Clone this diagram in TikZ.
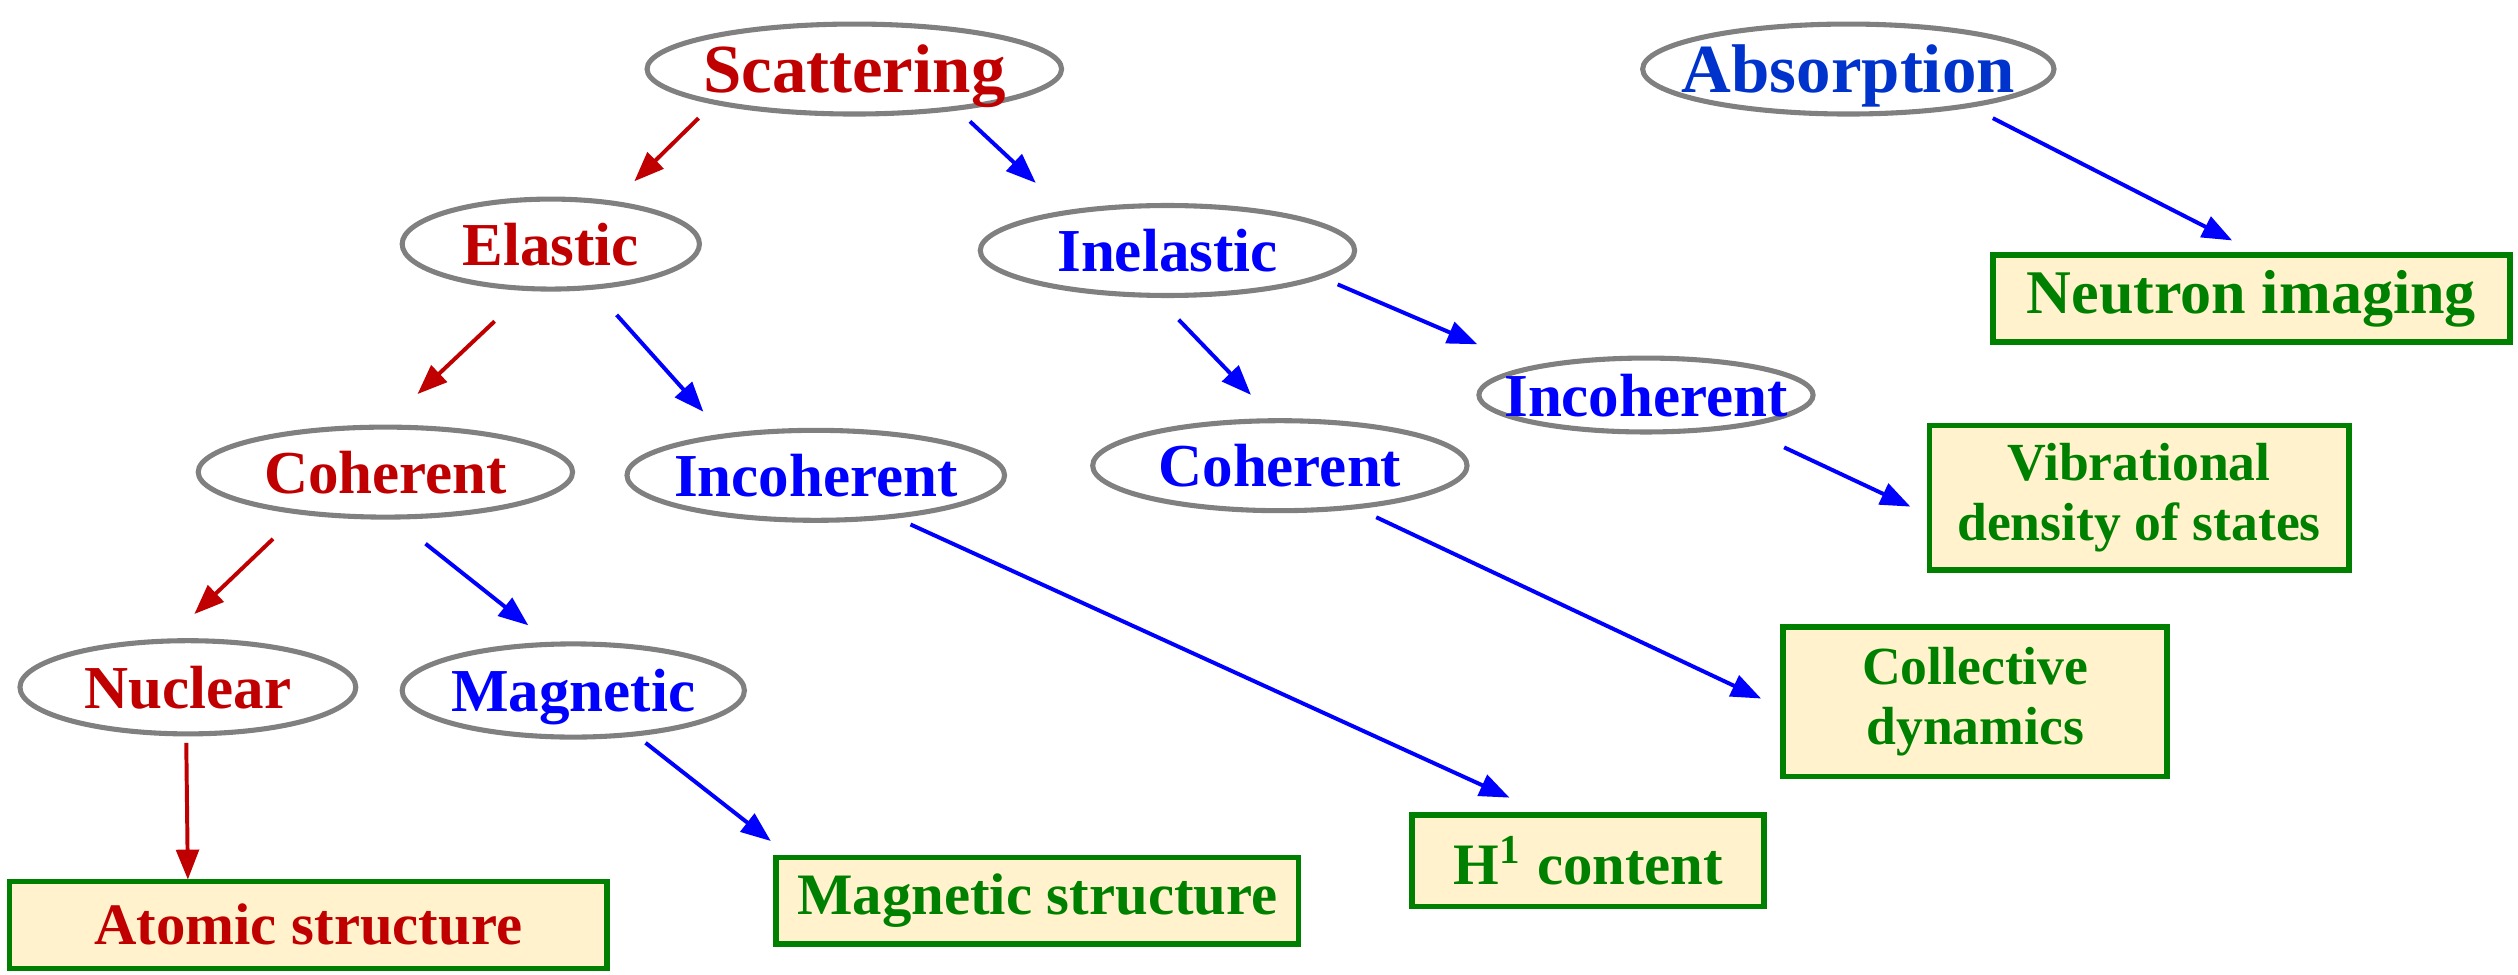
\documentclass[tikz,border=0pt]{standalone}
\usepackage{fontspec}
\setmainfont{Liberation Serif}
\usetikzlibrary{shapes.geometric,arrows.meta,calc}

\definecolor{scred}{HTML}{C00000}
\definecolor{scblue}{HTML}{0000FF}
\definecolor{absblue}{HTML}{0033CC}
\definecolor{boxgreen}{HTML}{008000}
\definecolor{boxfill}{HTML}{FFF2CC}
\definecolor{rimgray}{HTML}{808080}

\begin{document}
\begin{tikzpicture}[
  x=0.01cm, y=-0.01cm,
  every node/.style={inner sep=0pt},
  oval/.style={ellipse, draw=rimgray, line width=0.9pt, minimum height=0.56cm,
    text depth=0pt, font=\fontsize{10.8}{12}\selectfont\bfseries},
  big/.style={font=\fontsize{12.2}{14}\selectfont\bfseries},
  result/.style={rectangle, draw=boxgreen, fill=boxfill, line width=1pt, text=boxgreen,
    align=center, minimum height=0.54cm, font=\fontsize{10.4}{12}\selectfont\bfseries},
  tworow/.style={font=\fontsize{9.5}{10.6}\selectfont\bfseries},
  redarrow/.style={draw=scred, line width=0.7pt, -{Triangle[length=5.3pt,width=4pt]}},
  bluearrow/.style={draw=scblue, line width=0.7pt, -{Triangle[length=5.3pt,width=4pt]}}]

  \useasboundingbox (0,0) rectangle (1568,607);

  % processes
  \node[oval, big, minimum width=2.58cm, text=scred]   (sca)  at (532,43)  {\makebox[0pt]{Scattering}};
  \node[oval, big, minimum width=2.56cm, text=absblue] (abs)  at (1151,43) {\makebox[0pt]{Absorption}};
  \node[oval, minimum width=1.85cm, text=scred]        (ela)  at (343,152) {\makebox[0pt]{Elastic}};
  \node[oval, minimum width=2.33cm, text=scblue]       (inel) at (727,156) {\makebox[0pt]{Inelastic}};
  \node[oval, minimum width=2.33cm, text=scred]        (cohL) at (240,294) {\makebox[0pt]{Coherent}};
  \node[oval, minimum width=2.35cm, text=scblue]       (incL) at (508,296) {\makebox[0pt]{Incoherent}};
  \node[oval, minimum width=2.08cm, minimum height=0.46cm, text=scblue] (incR) at (1025,246) {\makebox[0pt]{Incoherent}};
  \node[oval, minimum width=2.33cm, text=scblue]       (cohR) at (797,290) {\makebox[0pt]{Coherent}};
  \node[oval, minimum width=2.09cm, minimum height=0.58cm, text=scred]  (nuc) at (117,428) {\makebox[0pt]{Nuclear}};
  \node[oval, minimum width=2.13cm, minimum height=0.58cm, text=scblue] (mag) at (357,430) {\makebox[0pt]{Magnetic}};

  % what each one measures
  \node[result, minimum width=3.22cm, font=\fontsize{11}{12}\selectfont\bfseries] (img) at (1402,186) {Neutron imaging};
  \node[result, tworow, minimum width=2.61cm, minimum height=0.90cm] (vib)  at (1332,310) {Vibrational\\density of states};
  \node[result, tworow, minimum width=2.39cm, minimum height=0.93cm] (coll) at (1230,437) {Collective\\dynamics};
  \node[result, minimum width=2.19cm, minimum height=0.57cm] (h1)   at (989,536) {H\textsuperscript{1} content};
  \node[result, minimum width=3.25cm] (mstr) at (646,561) {Magnetic structure};
  \node[result, minimum width=3.72cm, text=scred] (atom) at (192,576) {Atomic structure};

  \draw[redarrow]  ($(sca.south)+(-97,1)$)   -- ($(ela.north)+(52,-9.5)$);
  \draw[bluearrow] ($(sca.south)+(72,3)$)    -- ($(inel.north)+(-82,-12.5)$);
  \draw[redarrow]  ($(ela.south)+(-35,18.5)$) -- ($(cohL.north)+(20,-19)$);
  \draw[bluearrow] ($(ela.south)+(41,14.5)$) -- ($(incL.north)+(-70,-10)$);
  \draw[bluearrow] ($(inel.south)+(7,13.5)$) -- ($(cohR.north)+(-18,-14.5)$);
  \draw[bluearrow] ($(inel.south)+(106,-8.5)$) -- ($(incR.north)+(-105,-7)$);
  \draw[bluearrow] ($(abs.south)+(90,1)$)    -- ($(img.north)+(-12,-7.5)$);
  \draw[redarrow]  ($(cohL.south)+(-70,12)$) -- ($(nuc.north)+(4,-15)$);
  \draw[bluearrow] ($(cohL.south)+(25,15)$)  -- ($(mag.north)+(-28,-10)$);
  \draw[bluearrow] ($(incL.south)+(59,1)$)   -- ($(h1.north)+(-49,-9)$);
  \draw[bluearrow] ($(cohR.south)+(60,2.5)$) -- ($(coll.west)+(-12,-2)$);
  \draw[bluearrow] ($(incR.south)+(86,8)$)   -- ($(vib.west)+(-10,5.5)$);
  \draw[redarrow]  ($(nuc.south)+(-1,4)$)    -- ($(atom.north)+(-75,0.5)$);
  \draw[bluearrow] ($(mag.south)+(45,2)$)    -- ($(mstr.north)+(-166,-8.5)$);

\end{tikzpicture}
\end{document}
